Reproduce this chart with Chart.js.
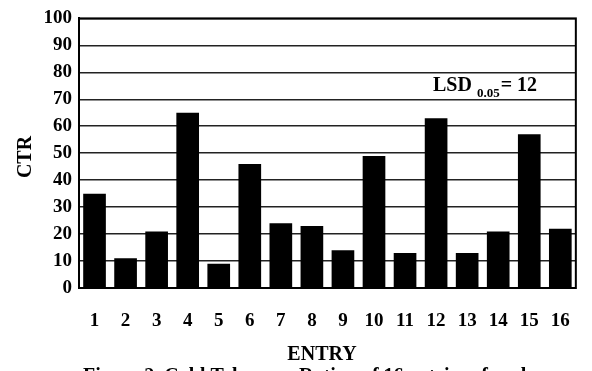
<!DOCTYPE html>
<html>
<head>
<meta charset="utf-8">
<script src="https://cdn.jsdelivr.net/npm/chart.js@4/dist/chart.umd.min.js"></script>
<style>
  html, body { margin: 0; padding: 0; background: #fff; }
  #wrap { width: 592px; height: 371px; }
</style>
</head>
<body>
<div id="wrap"><canvas id="chart" width="592" height="371"></canvas></div>
<script>
const entries = ['1', '2', '3', '4', '5', '6', '7', '8', '9', '10', '11', '12', '13', '14', '15', '16'];
const ctrValues = [35, 11, 21, 65, 9, 46, 24, 23, 14, 49, 13, 63, 13, 21, 57, 22];
const yTicks = [0, 10, 20, 30, 40, 50, 60, 70, 80, 90, 100];

const FONT = '"Liberation Serif", "Times New Roman", serif';

// extra text: axis titles, LSD note, caption and the plot frame
const annotations = {
    id: 'annotations',
    afterDraw(chart) {
        const ctx = chart.ctx;
        const area = chart.chartArea;
        ctx.save();
        ctx.strokeStyle = '#000';
        ctx.lineWidth = 2;
        ctx.strokeRect(area.left, area.top, area.right - area.left, area.bottom - area.top);

        ctx.fillStyle = '#000';
        ctx.textBaseline = 'alphabetic';

        // LSD note
        ctx.font = 'bold 20px ' + FONT;
        ctx.textAlign = 'left';
        ctx.fillText('LSD', 433, 91);
        let x = 433 + ctx.measureText('LSD ').width;
        ctx.font = 'bold 13px ' + FONT;
        ctx.fillText('0.05', x, 97);
        x += ctx.measureText('0.05').width + 1;
        ctx.font = 'bold 20px ' + FONT;
        ctx.fillText('= 12', x, 91);

        // x title
        ctx.font = 'bold 20px ' + FONT;
        ctx.textAlign = 'center';
        ctx.fillText('ENTRY', 322, 360);

        // caption (cut off by the page bottom)
        ctx.textAlign = 'left';
        ctx.fillText('Figure 2. Cold Tolerance Rating of 16 entries of each', 83, 382);

        // y title
        ctx.translate(31, 157);
        ctx.rotate(-Math.PI / 2);
        ctx.textAlign = 'center';
        ctx.fillText('CTR', 0, 0);
        ctx.restore();
    }
};

new Chart(document.getElementById('chart'), {
    type: 'bar',
    data: {
        labels: entries,
        datasets: [{
            data: ctrValues,
            backgroundColor: '#000',
            borderWidth: 0,
            barPercentage: 0.73,
            categoryPercentage: 1.0
        }]
    },
    options: {
        responsive: false,
        animation: false,
        layout: { padding: { top: 14, right: 6, left: 0, bottom: 0 } },
        plugins: {
            legend: { display: false },
            tooltip: { enabled: false }
        },
        scales: {
            x: {
                grid: { display: false, drawTicks: false },
                border: { display: true, color: '#000', width: 2 },
                ticks: {
                    color: '#000',
                    font: { family: FONT, size: 19, weight: 'bold' },
                    padding: 22,
                    maxRotation: 0,
                    autoSkip: false
                },
                afterFit(scale) { scale.height = 83; }
            },
            y: {
                min: 0,
                max: 100,
                afterBuildTicks(scale) { scale.ticks = yTicks.map(v => ({ value: v })); },
                grid: { color: '#222', lineWidth: 1.5, drawTicks: false },
                border: { display: true, color: '#000', width: 2 },
                ticks: {
                    color: '#000',
                    font: { family: FONT, size: 19, weight: 'bold' },
                    padding: 7
                },
                afterFit(scale) { scale.width = 79; }
            }
        }
    },
    plugins: [annotations]
});
</script>
</body>
</html>
